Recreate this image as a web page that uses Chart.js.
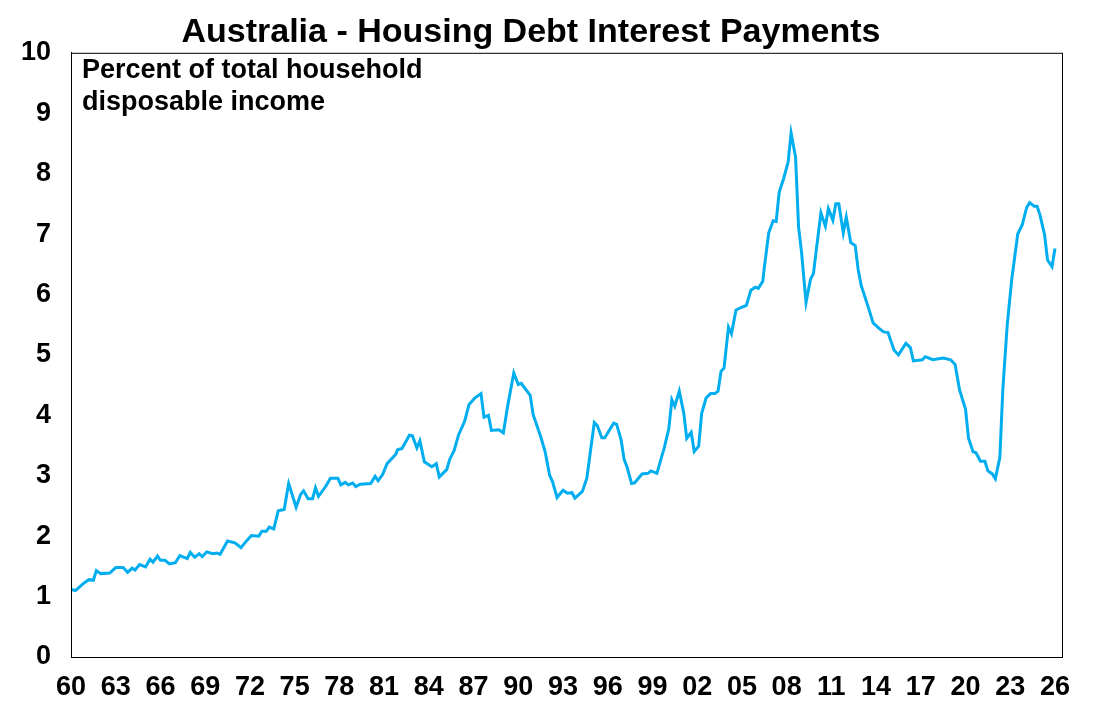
<!DOCTYPE html>
<html><head><meta charset="utf-8">
<script src="https://cdn.jsdelivr.net/npm/chart.js@4"></script>
<style>html,body{margin:0;padding:0;background:#fff}#w{width:1096px;height:718px}</style>
</head><body><div id="w"><canvas id="c"></canvas></div>
<script>
const years = [1960,1960.3,1960.8,1961.2,1961.5,1961.7,1962.0,1962.6,1963.0,1963.5,1963.8,1964.1,1964.3,1964.6,1965.0,1965.3,1965.5,1965.8,1966.0,1966.3,1966.6,1967.0,1967.3,1967.8,1968.0,1968.3,1968.6,1968.8,1969.1,1969.5,1969.8,1970.0,1970.5,1971.0,1971.4,1971.8,1972.1,1972.6,1972.8,1973.1,1973.3,1973.6,1973.9,1974.3,1974.6,1975.1,1975.4,1975.6,1975.9,1976.2,1976.4,1976.6,1977.1,1977.4,1977.9,1978.1,1978.4,1978.6,1978.9,1979.1,1979.4,1980.1,1980.4,1980.6,1980.9,1981.2,1981.8,1981.9,1982.2,1982.7,1982.9,1983.2,1983.4,1983.7,1984.2,1984.5,1984.7,1985.2,1985.4,1985.7,1986.0,1986.4,1986.7,1987.1,1987.5,1987.7,1988.0,1988.2,1988.7,1989.0,1989.3,1989.7,1990.0,1990.2,1990.8,1991.0,1991.5,
1991.8,1992.1,1992.3,1992.6,1993.0,1993.3,1993.6,1993.8,1994.3,1994.6,1994.8,1995.1,1995.3,1995.6,1995.8,1996.4,1996.6,1996.9,1997.1,1997.3,1997.6,1997.8,1998.3,1998.7,1998.9,1999.3,1999.6,1999.8,2000.1,2000.3,2000.5,2000.8,2001.1,2001.3,2001.6,2001.8,2002.1,2002.3,2002.6,2002.9,2003.2,2003.4,2003.6,2003.8,2004.1,2004.3,2004.6,2004.9,2005.3,2005.6,2005.9,2006.1,2006.4,2006.5,2006.8,2007.1,2007.3,2007.5,2007.8,2008.1,2008.3,2008.6,2008.8,2009.0,2009.3,2009.6,2009.8,2010.0,2010.3,2010.6,2010.8,2011.1,2011.3,2011.5,2011.8,2012.0,2012.3,2012.6,2012.8,2013.0,2013.5,2013.8,2014.2,2014.5,2014.8,2015.2,2015.5,2016.0,2016.3,2016.5,2017.1,2017.3,2017.8,2018.5,2019.0,2019.3,2019.6,2020.0,2020.2,2020.5,2020.7,2021.0,2021.3,2021.5,2021.8,2022.0,2022.3,2022.5,2022.8,2023.1,2023.5,2023.8,2024.1,2024.3,2024.6,2024.8,2025.0,2025.3,2025.5,2025.8,2026.0];
const interestShare = [1.12,1.10,1.21,1.28,1.27,1.43,1.38,1.39,1.48,1.48,1.40,1.47,1.44,1.53,1.49,1.62,1.57,1.67,1.60,1.60,1.54,1.56,1.68,1.63,1.73,1.65,1.71,1.66,1.74,1.71,1.72,1.70,1.92,1.89,1.81,1.93,2.01,2.00,2.08,2.08,2.15,2.12,2.42,2.44,2.87,2.48,2.69,2.75,2.62,2.62,2.80,2.66,2.83,2.96,2.96,2.85,2.89,2.85,2.88,2.82,2.86,2.87,2.99,2.92,3.02,3.20,3.36,3.43,3.45,3.67,3.66,3.46,3.58,3.23,3.15,3.20,2.98,3.10,3.27,3.42,3.68,3.90,4.18,4.29,4.36,3.97,4.00,3.75,3.76,3.71,4.17,4.70,4.51,4.53,4.33,4.01,3.65,
3.40,3.01,2.90,2.64,2.76,2.71,2.72,2.63,2.74,2.96,3.33,3.88,3.83,3.63,3.63,3.87,3.85,3.59,3.27,3.14,2.87,2.88,3.03,3.04,3.08,3.04,3.30,3.47,3.78,4.26,4.15,4.40,4.04,3.62,3.72,3.40,3.49,4.03,4.29,4.36,4.36,4.40,4.73,4.78,5.46,5.35,5.74,5.78,5.82,6.07,6.12,6.10,6.22,6.44,7.02,7.22,7.21,7.69,7.92,8.19,8.67,8.27,7.12,6.70,5.87,6.25,6.35,6.76,7.35,7.13,7.42,7.23,7.50,7.50,7.02,7.28,6.86,6.81,6.41,6.15,5.77,5.53,5.44,5.38,5.37,5.08,5.00,5.19,5.12,4.90,4.92,4.97,4.92,4.95,4.92,4.84,4.42,4.10,3.62,3.40,3.38,3.24,3.24,3.08,3.03,2.95,3.30,4.42,5.51,6.25,7.00,7.15,7.44,7.52,7.46,7.46,7.31,6.99,6.57,6.46,6.76];
const yTicks = [0,1,2,3,4,5,6,7,8,9,10];
const xTicks = [1960,1963,1966,1969,1972,1975,1978,1981,1984,1987,1990,1993,1996,1999,2002,2005,2008,2011,2014,2017,2020,2023,2026];
const titleText = 'Australia - Housing Debt Interest Payments';
const noteLines = ['Percent of total household','disposable income'];
const FONT = 'Arial, "Liberation Sans", sans-serif';

const pts = years.map((y,i)=>({x:y,y:interestShare[i]}));
const deco = {
  id:'deco',
  afterDraw(ch){
    const c=ch.ctx, a=ch.chartArea;
    c.save();
    c.strokeStyle='#000'; c.lineWidth=1;
    c.strokeRect(a.left+0.5,a.top+0.5,a.right-a.left,a.bottom-a.top);
    c.fillStyle='#000'; c.font='bold 27px '+FONT;
    c.textBaseline='middle'; c.textAlign='left';
    c.fillText(noteLines[0],a.left+11,a.top+18);
    c.fillText(noteLines[1],a.left+11,a.top+50);
    c.restore();
  }
};
new Chart(document.getElementById('c'),{
  type:'line',
  data:{datasets:[{data:pts,borderColor:'#00AEEF',borderWidth:3,pointRadius:0,tension:0,fill:false}]},
  options:{
    responsive:true,maintainAspectRatio:false,animation:false,
    layout:{padding:{left:0,right:34,top:0,bottom:0}},
    plugins:{legend:{display:false},tooltip:{enabled:false},
      title:{display:true,text:titleText,color:'#000',font:{family:FONT,size:34,weight:'bold'},padding:{top:12,bottom:0}}},
    scales:{
      x:{type:'linear',min:1960,max:2026.47,
        afterBuildTicks(s){s.ticks=xTicks.map(v=>({value:v}));},
        grid:{display:false,drawTicks:false},border:{display:true,color:'#000'},
        ticks:{autoSkip:false,maxRotation:0,padding:14,color:'#000',
          font:{family:FONT,size:27,weight:'bold'},
          callback:v=>String(Math.round(v)%100).padStart(2,'0')},
        afterFit(s){s.height=61;}},
      y:{min:0,max:10,
        afterBuildTicks(s){s.ticks=yTicks.map(v=>({value:v}));},
        grid:{display:false,drawTicks:false},border:{display:true,color:'#000'},
        ticks:{padding:20,color:'#000',font:{family:FONT,size:27,weight:'bold'}},
        afterFit(s){s.width=71;}}
    }
  },
  plugins:[deco]
});
</script></body></html>
